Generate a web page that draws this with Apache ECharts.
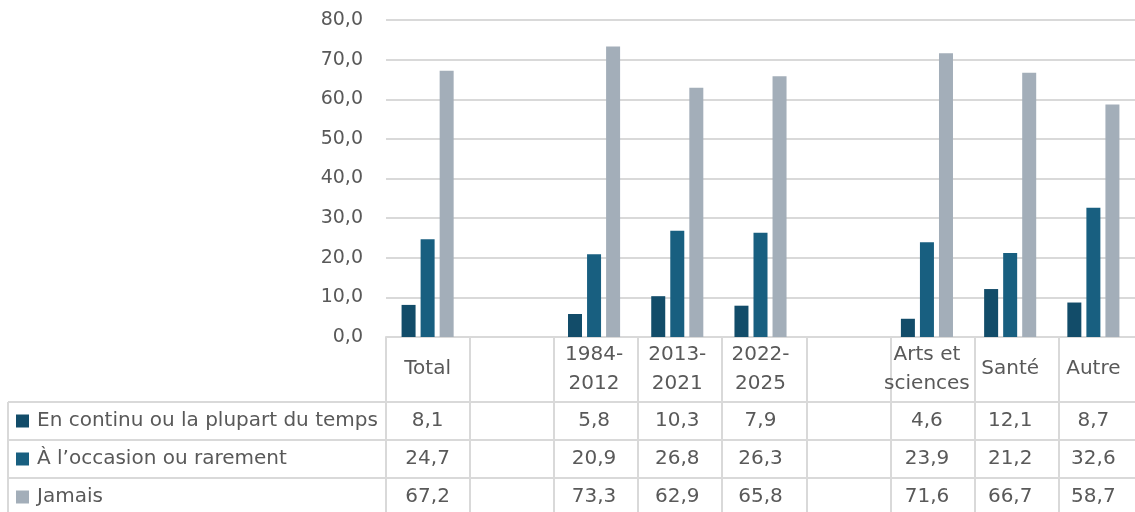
<!DOCTYPE html>
<html>
<head>
<meta charset="utf-8">
<script src="https://cdn.jsdelivr.net/npm/echarts@6/dist/echarts.min.js"></script>
<style>
  html, body { margin: 0; padding: 0; background: #fff; }
  #main { width: 1135px; height: 512px; }
</style>
</head>
<body>
<div id="main"></div>
<script>
// catégories (colonnes vides pour séparer les groupes)
var categories = ['Total', ' ', '1984-\n2012', '2013-\n2021', '2022-\n2025', '  ', 'Arts et\nsciences', 'Santé', 'Autre'];
var seriesNames = ['En continu ou la plupart du temps', 'À l’occasion ou rarement', 'Jamais'];
var continu = [8.1, null, 5.8, 10.3, 7.9, null, 4.6, 12.1, 8.7];
var occasion = [24.7, null, 20.9, 26.8, 26.3, null, 23.9, 21.2, 32.6];
var jamais = [67.2, null, 73.3, 62.9, 65.8, null, 71.6, 66.7, 58.7];
var yTicks = [0, 10, 20, 30, 40, 50, 60, 70, 80];

(function () {
  var myChart = echarts.init(document.getElementById('main'));

  var FONT = 'DejaVu Sans';
  var TXT = '#595959';
  var LINE = '#d9d9d9';
  // zone du graphique
  var gLeft = 386, gTop = 20, gWidth = 757, gHeight = 317;
  var rowY = [402, 440, 478, 516];
  var allSeries = [continu, occasion, jamais];

  function fmt(v) {
    if (v === null || v === undefined) return '';
    return v.toFixed(1).replace('.', ',');
  }

  // axes des lignes du tableau (une par série)
  var rowAxes = allSeries.map(function (arr, k) {
    return {
      type: 'category',
      data: categories,
      position: 'bottom',
      axisLine: { show: false },
      axisTick: { show: false },
      axisLabel: {
        interval: 0,
        margin: (rowY[k] + rowY[k + 1]) / 2 - (gTop + gHeight),
        verticalAlign: 'middle',
        color: TXT,
        fontFamily: FONT,
        fontSize: 20,
        formatter: function (v, i) { return fmt(arr[i]); }
      }
    };
  });

  // lignes du tableau
  var colW = gWidth / categories.length;
  var lines = [];
  var bottom = 512;
  rowY.slice(0, 3).forEach(function (y) {
    lines.push({ type: 'line', shape: { x1: 8, y1: y, x2: gLeft + gWidth, y2: y }, style: { stroke: LINE, lineWidth: 2 } });
  });
  lines.push({ type: 'line', shape: { x1: 8, y1: rowY[0], x2: 8, y2: bottom }, style: { stroke: LINE, lineWidth: 2 } });
  for (var c = 0; c <= categories.length; c++) {
    var x = Math.round(gLeft + c * colW);
    lines.push({ type: 'line', shape: { x1: x, y1: gTop + gHeight, x2: x, y2: bottom }, style: { stroke: LINE, lineWidth: 2 } });
  }

  var option = {
    animation: false,
    color: ['#124c69', '#185f80', '#a3aeb9'],
    textStyle: { fontFamily: FONT },
    legend: {
      orient: 'vertical',
      left: 16,
      top: 411,
      padding: 0,
      itemGap: 18,
      itemWidth: 13,
      itemHeight: 13,
      icon: 'rect',
      data: seriesNames,
      textStyle: { color: TXT, fontFamily: FONT, fontSize: 20, lineHeight: 20, padding: [0, 0, 0, 3] }
    },
    grid: { left: gLeft, top: gTop, width: gWidth, height: gHeight, containLabel: false },
    xAxis: [{
      type: 'category',
      data: categories,
      axisLine: { lineStyle: { color: LINE, width: 2 } },
      axisTick: { show: false },
      axisLabel: {
        interval: 0,
        margin: 32,
        verticalAlign: 'middle',
        color: TXT,
        fontFamily: FONT,
        fontSize: 20,
        lineHeight: 29
      }
    }].concat(rowAxes),
    yAxis: {
      type: 'value',
      min: yTicks[0],
      max: yTicks[yTicks.length - 1],
      interval: 10,
      axisLine: { show: false },
      axisTick: { show: false },
      splitLine: { lineStyle: { color: LINE, width: 2 } },
      axisLabel: {
        margin: 23,
        color: TXT,
        fontFamily: FONT,
        fontSize: 19,
        formatter: function (v) { return fmt(v); }
      }
    },
    series: seriesNames.map(function (name, k) {
      return {
        name: name,
        type: 'bar',
        barWidth: 14,
        barGap: '36%',
        data: allSeries[k]
      };
    }),
    graphic: lines
  };

  myChart.setOption(option);
})();
</script>
</body>
</html>
